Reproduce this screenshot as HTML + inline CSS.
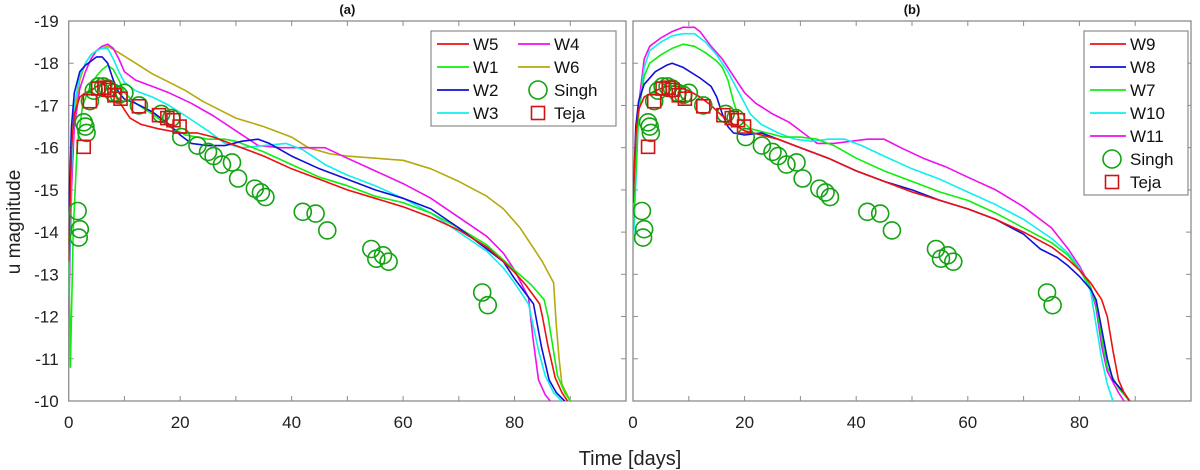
<!DOCTYPE html>
<html><head><meta charset="utf-8"><style>
html,body{margin:0;padding:0;background:#fff}
svg{display:block;font-family:"Liberation Sans",sans-serif}
</style></head><body>
<svg id="chart" width="1200" height="470" viewBox="0 0 1200 470"></svg>
<script>
const days=[];
const singhDays=[1.6,2,1.8,2.7,3,3.2,3.8,4.5,5.3,6.2,7,8,9,10,12.6,16.6,18.4,20.2,23.1,25,26,27.5,29.3,30.4,33.4,34.5,35.3,42,44.3,46.4,54.3,55.2,56.4,57.4,74.2,75.2];
const singhMags=[-14.5,-14.07,-13.87,-16.6,-16.5,-16.35,-17.1,-17.35,-17.45,-17.45,-17.4,-17.3,-17.25,-17.3,-17,-16.8,-16.7,-16.25,-16.05,-15.9,-15.8,-15.6,-15.65,-15.27,-15.03,-14.94,-14.83,-14.48,-14.44,-14.04,-13.6,-13.37,-13.45,-13.3,-12.57,-12.27];
const tejaDays=[2.7,3.8,5.3,6.4,7.1,8.2,9.3,12.6,16.2,17.7,18.8,19.9];
const tejaMags=[-16.02,-17.1,-17.4,-17.42,-17.37,-17.24,-17.16,-16.98,-16.77,-16.7,-16.65,-16.5];
const xTicks=[0,20,40,60,80];
const yTicks=[-19,-18,-17,-16,-15,-14,-13,-12,-11,-10];
// panel (a) series: [day, mag]
const W5=[[0,-13.3],[0.5,-16],[1,-16.8],[2,-17.2],[3,-17.3],[4,-17.35],[5,-17.45],[6,-17.5],[7,-17.45],[8,-17.3],[9,-17.1],[10,-16.9],[11,-16.7],[13,-16.55],[16,-16.45],[20,-16.35],[23,-16.35],[26,-16.25],[30,-16.05],[35,-15.8],[40,-15.5],[45,-15.25],[50,-15.0],[55,-14.8],[60,-14.6],[65,-14.35],[70,-14.05],[75,-13.65],[78,-13.3],[80,-13.05],[82,-12.75],[84.5,-12.3],[85,-12.0],[86,-11.3],[87.3,-10.55],[88.5,-10.2],[89.5,-10]];
const W4=[[0,-12],[0.5,-15],[1,-16.5],[2,-17.4],[3,-17.8],[4,-18.1],[5,-18.3],[6,-18.4],[7,-18.45],[8,-18.35],[9,-18.1],[10,-17.8],[12,-17.6],[15,-17.45],[18,-17.3],[22,-17.05],[26,-16.75],[30,-16.4],[34,-16.05],[38,-16.0],[42,-16.0],[46,-16.0],[50,-15.75],[55,-15.45],[60,-15.15],[65,-14.8],[70,-14.35],[75,-13.9],[78,-13.5],[80,-13.1],[82.5,-12.45],[83.3,-11.5],[84.3,-10.5],[85.5,-10.15],[86.4,-10]];
const W1=[[0,-13.9],[0.3,-10.8],[0.8,-14],[1.5,-16],[2.5,-17],[4,-17.5],[5,-17.7],[6,-17.85],[7,-17.95],[8,-17.85],[9,-17.6],[10,-17.3],[12,-17.05],[15,-16.8],[18,-16.5],[21,-16.3],[25,-16.2],[28,-16.2],[30,-16.15],[35,-15.9],[40,-15.6],[45,-15.3],[50,-15.1],[55,-14.85],[60,-14.7],[65,-14.45],[70,-14.1],[75,-13.7],[80,-13.1],[83,-12.75],[85.3,-12.4],[86,-12.0],[87.7,-10.6],[89,-10.2],[90,-10]];
const W2=[[0,-14.5],[0.5,-16.5],[1,-17.3],[2,-17.8],[3,-17.95],[4,-18.05],[5,-18.15],[6,-18.15],[7,-18.0],[8,-17.6],[9,-17.3],[10,-17.15],[12,-17.05],[15,-16.85],[18,-16.55],[20,-16.3],[22,-16.1],[25,-16.05],[28,-16.05],[31,-16.15],[34,-16.2],[36,-16.1],[40,-15.8],[45,-15.5],[50,-15.25],[55,-15],[60,-14.8],[65,-14.55],[70,-14.1],[75,-13.6],[78,-13.3],[80,-12.9],[83.4,-12.3],[84.8,-11.3],[86.2,-10.5],[87.5,-10.2],[89,-10]];
const W3=[[0,-12.5],[0.5,-15.5],[1,-17],[2,-17.7],[3,-18.0],[4,-18.2],[5,-18.3],[6,-18.35],[7,-18.35],[8,-18.1],[9,-17.8],[10,-17.55],[12,-17.35],[15,-17.2],[18,-17.0],[21,-16.75],[25,-16.4],[28,-16.1],[31,-16.0],[35,-16.05],[39,-16.1],[42,-15.95],[46,-15.6],[50,-15.35],[55,-15.1],[60,-14.8],[65,-14.45],[70,-14.0],[75,-13.55],[78,-13.15],[80,-12.8],[82.5,-12.3],[84.3,-11.2],[85.5,-10.6],[87,-10.2],[88.5,-10]];
const W6=[[0,-12.6],[0.5,-15.5],[1,-16.8],[2,-17.6],[3,-18.0],[4,-18.2],[5,-18.3],[6,-18.35],[7,-18.4],[9,-18.25],[12,-18.0],[15,-17.75],[18,-17.55],[21,-17.35],[24,-17.1],[27,-16.9],[30,-16.7],[35,-16.5],[40,-16.25],[43,-16.0],[47,-15.85],[50,-15.8],[55,-15.75],[60,-15.7],[65,-15.5],[70,-15.2],[75,-14.85],[78,-14.55],[81,-14.1],[83,-13.7],[85,-13.3],[87,-12.8],[87.5,-11.8],[88,-11],[88.5,-10.4],[90,-10]];
// panel (b) series
const W9=[[0,-14.7],[0.5,-16.3],[1,-16.9],[2,-17.2],[4,-17.35],[6,-17.45],[8,-17.45],[10,-17.35],[12,-17.2],[14,-17.0],[16,-16.75],[18,-16.55],[20,-16.4],[23,-16.3],[26,-16.2],[30,-16.0],[35,-15.75],[40,-15.45],[45,-15.2],[50,-14.95],[55,-14.75],[60,-14.55],[65,-14.3],[70,-14.0],[75,-13.65],[78,-13.35],[80,-13.1],[82,-12.8],[84,-12.4],[85,-12.0],[86,-11.2],[87,-10.5],[88,-10.2],[89,-10]];
const W8=[[0,-14.7],[0.5,-16.5],[1,-17.1],[2,-17.5],[4,-17.8],[6,-17.95],[7,-18.0],[9,-17.9],[12,-17.65],[14,-17.45],[15,-17.2],[16,-16.8],[17,-16.5],[18,-16.35],[20,-16.3],[23,-16.35],[26,-16.2],[30,-16.0],[35,-15.75],[40,-15.45],[45,-15.2],[50,-15.0],[55,-14.75],[60,-14.55],[65,-14.3],[70,-13.95],[73,-13.6],[76,-13.4],[78,-13.2],[80,-12.95],[82,-12.65],[83,-12.4],[84,-11.7],[85,-11.0],[86,-10.5],[88,-10.2],[89,-10]];
const W7=[[0,-14],[1,-16.8],[2,-17.7],[3,-18],[5,-18.2],[7,-18.35],[9,-18.45],[11,-18.4],[13,-18.25],[15,-18.05],[16,-17.9],[17,-17.6],[18,-17.1],[19,-16.7],[21,-16.45],[24,-16.35],[27,-16.25],[30,-16.25],[33,-16.2],[36,-16.05],[40,-15.75],[45,-15.45],[50,-15.2],[55,-14.95],[60,-14.75],[65,-14.45],[70,-14.1],[75,-13.75],[78,-13.45],[80,-13.1],[82,-12.7],[83,-12.3],[84,-11.5],[85,-10.8],[87,-10.3],[89,-10]];
const W10=[[0,-13.5],[1,-16.8],[2,-17.9],[3,-18.3],[5,-18.5],[7,-18.65],[9,-18.7],[11,-18.7],[13,-18.5],[15,-18.2],[17,-17.8],[19,-17.3],[21,-16.8],[23,-16.55],[26,-16.35],[29,-16.2],[32,-16.15],[35,-16.2],[38,-16.2],[41,-16.05],[45,-15.8],[50,-15.5],[55,-15.25],[60,-14.95],[65,-14.65],[70,-14.3],[75,-13.85],[78,-13.5],[80,-13.15],[82,-12.6],[83,-11.8],[84,-11],[85,-10.4],[86,-10]];
const W11=[[0,-14],[1,-17],[2,-18.1],[3,-18.4],[5,-18.6],[7,-18.75],[9,-18.85],[11,-18.85],[12,-18.75],[14,-18.4],[16,-18.1],[18,-17.7],[20,-17.3],[22,-17.05],[25,-16.8],[28,-16.6],[31,-16.3],[33,-16.1],[36,-16.1],[39,-16.15],[42,-16.2],[45,-16.2],[48,-16.0],[52,-15.75],[56,-15.55],[60,-15.3],[65,-15.0],[70,-14.6],[75,-14.1],[78,-13.6],[80,-13.2],[82,-12.7],[83,-12.2],[84,-11.3],[85,-10.7],[87,-10.2],[88,-10]];

const NS='http://www.w3.org/2000/svg';
const svg=document.getElementById('chart');
function mk(tag,attrs,parent){const e=document.createElementNS(NS,tag);for(const k in attrs)e.setAttribute(k,attrs[k]);(parent||svg).appendChild(e);return e;}
const Y0=21,Y1=401;
function yScale(m){return Y0+(m-(-19))/9*(Y1-Y0);}

function panel(id,x0,x1,title,series,legend,showY){
  const g=mk('g',{});
  
  
  const xs=d=>x0+d/100*(x1-x0);
  const frame=mk('rect',{x:x0,y:Y0,width:x1-x0,height:Y1-Y0,fill:'none',stroke:'#8c8c8c','stroke-width':1.3},g);
  
  
  for(let d=10;d<100;d+=10){
    mk('line',{x1:xs(d),x2:xs(d),y1:Y1,y2:Y1-5,stroke:'#8c8c8c'},g);
    mk('line',{x1:xs(d),x2:xs(d),y1:Y0,y2:Y0+5,stroke:'#8c8c8c'},g);
  }
  xTicks.forEach(t=>{
    const tx=mk('text',{x:xs(t),y:428,'text-anchor':'middle','font-size':17,fill:'#222'},g);
    tx.textContent=t;
    
    
  });
  yTicks.forEach(t=>{
    mk('line',{x1:x0,x2:x0+5,y1:yScale(t),y2:yScale(t),stroke:'#8c8c8c'},g);
    mk('line',{x1:x1,x2:x1-5,y1:yScale(t),y2:yScale(t),stroke:'#8c8c8c'},g);
    if(showY){
      const tx=mk('text',{x:x0-10,y:yScale(t)+6,'text-anchor':'end','font-size':17,fill:'#222'},g);
      tx.textContent=t;
      
      
    }
  });
  const tt=mk('text',{x:(x0+x1)/2,y:14,'text-anchor':'middle','font-size':13,'font-weight':'bold',fill:'#111'},g);
  tt.textContent=title;
  
  
  const clip=mk('clipPath',{id:'clip'+id},g);
  mk('rect',{x:x0,y:Y0,width:x1-x0,height:Y1-Y0},clip);
  const pg=mk('g',{'clip-path':'url(#clip'+id+')'},g);
  series.forEach(s=>{
    const p=mk('polyline',{points:s.data.map(q=>xs(q[0]).toFixed(1)+','+yScale(q[1]).toFixed(1)).join(' '),fill:'none',stroke:s.color,'stroke-width':1.6,'stroke-linejoin':'round'},pg);
    
    
  });
  singhDays.forEach((d,i)=>{
    const c=mk('ellipse',{cx:xs(d),cy:yScale(singhMags[i]),rx:8.5,ry:8.5,fill:'none',stroke:'#13a313','stroke-width':1.6},pg);
    
    
  });
  tejaDays.forEach((d,i)=>{
    const r=mk('rect',{x:xs(d)-6.5,y:yScale(tejaMags[i])-6.5,width:13,height:13,fill:'none',stroke:'#d01414','stroke-width':1.6},pg);
    
    
  });
  // legend
  const lg=mk('g',{},g);
  
  
  mk('rect',{x:legend.x,y:legend.y,width:legend.w,height:legend.h,fill:'#fff',stroke:'#8c8c8c','stroke-width':1.2},lg);
  legend.items.forEach((it,i)=>{
    const col=Math.floor(i/legend.rows),row=i%legend.rows;
    const bx=legend.x+6+col*legend.colW, by=legend.y+13+row*23;
    const e=mk('g',{},lg);
    
    
    if(it.kind==='line') mk('line',{x1:bx,x2:bx+legend.lineW,y1:by,y2:by,stroke:it.color,'stroke-width':1.8},e);
    else if(it.kind==='circle') mk('ellipse',{cx:bx+legend.lineW/2+4,cy:by,rx:9,ry:9,fill:'none',stroke:'#13a313','stroke-width':1.6},e);
    else mk('rect',{x:bx+legend.lineW/2-2.5,y:by-6.5,width:13,height:13,fill:'none',stroke:'#d01414','stroke-width':1.6},e);
    const t=mk('text',{x:bx+legend.lineW+4,y:by+6,'font-size':17,fill:'#111'},e);
    t.textContent=it.name;
  });
}
panel('a',68.7,626,'(a)',[
  {name:'W6',color:'#b5a90c',data:W6},{name:'W4',color:'#ee10ee',data:W4},{name:'W3',color:'#10eeee',data:W3},
  {name:'W1',color:'#10ee10',data:W1},{name:'W2',color:'#1010d8',data:W2},{name:'W5',color:'#ee1010',data:W5}],
  {x:431,y:31,w:185,h:95,rows:4,colW:81,lineW:32,items:[
   {name:'W5',kind:'line',color:'#ee1010'},{name:'W1',kind:'line',color:'#10ee10'},{name:'W2',kind:'line',color:'#1010d8'},{name:'W3',kind:'line',color:'#10eeee'},
   {name:'W4',kind:'line',color:'#ee10ee'},{name:'W6',kind:'line',color:'#b5a90c'},{name:'Singh',kind:'circle'},{name:'Teja',kind:'square'}]},true);
panel('b',633,1191,'(b)',[
  {name:'W11',color:'#ee10ee',data:W11},{name:'W10',color:'#10eeee',data:W10},{name:'W7',color:'#10ee10',data:W7},
  {name:'W8',color:'#1010d8',data:W8},{name:'W9',color:'#ee1010',data:W9}],
  {x:1084,y:31,w:104,h:164,rows:7,colW:0,lineW:36,items:[
   {name:'W9',kind:'line',color:'#ee1010'},{name:'W8',kind:'line',color:'#1010d8'},{name:'W7',kind:'line',color:'#10ee10'},{name:'W10',kind:'line',color:'#10eeee'},
   {name:'W11',kind:'line',color:'#ee10ee'},{name:'Singh',kind:'circle'},{name:'Teja',kind:'square'}]},false);
const yl=mk('text',{x:0,y:0,'font-size':19,fill:'#222','text-anchor':'middle',transform:'translate(20,222) rotate(-90)'});
yl.textContent='u magnitude';


const xl=mk('text',{x:630,y:465,'font-size':20,fill:'#222','text-anchor':'middle'});
xl.textContent='Time [days]';


</script>
</body></html>
